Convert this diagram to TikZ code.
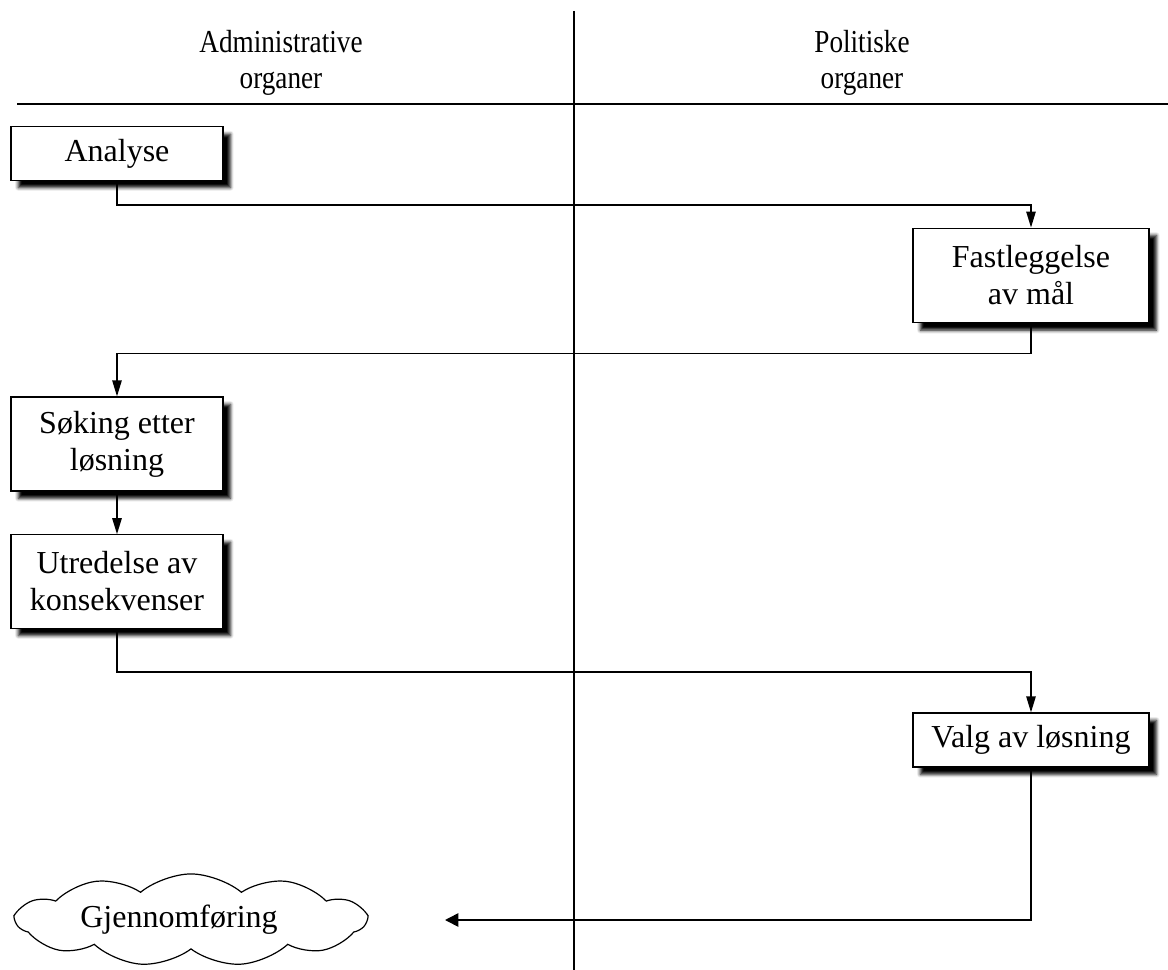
\documentclass[tikz,border=0pt]{standalone}
\usepackage{fontspec}
\setmainfont{Liberation Serif}
\usetikzlibrary{shapes.symbols,arrows.meta,shadows.blur}
\begin{document}
\begin{tikzpicture}[x=0.75pt,y=-0.75pt,
  txt/.style={font=\fontsize{24}{27.75}\selectfont, align=center},
  box/.style={txt, draw=black, line width=0.9pt, fill=white, inner sep=0pt,
     blur shadow={shadow xshift=5.5pt, shadow yshift=-5.5pt, shadow blur radius=2.5pt, shadow opacity=100}},
  lbox/.style={box, minimum width=159pt},
  rbox/.style={box, minimum width=177pt},
  conn/.style={line width=1.2pt, draw=black},
  arr/.style={conn, -{Triangle[length=12pt, width=7pt]}},
  bigarr/.style={conn, -{Triangle[length=10pt, width=10pt]}},
  rule/.style={line width=2pt, draw=black},
  hdr/.style={font=\fontsize{24}{26.5}\selectfont, align=center}
]
\useasboundingbox (0,0) rectangle (1168,970);
% header and swimlane lines
\node[hdr] (hadm) at (281,63) {\scalebox{0.85}[1]{Administrative}\\\scalebox{0.85}[1]{organer}};
\node[hdr] (hpol) at (862,63) {\scalebox{0.85}[1]{Politiske}\\\scalebox{0.85}[1]{organer}};
\coordinate (vtop) at (574,11);
\coordinate (vbot) at (574,970);
\coordinate (hl) at (17,104);
\coordinate (hr) at (1168,104);
\draw[rule] (vtop) -- (vbot);
\draw[rule] (hl) -- (hr);
% boxes
\node[lbox, minimum height=40pt] (ana) at (117,153.5) {Analyse};
\node[rbox, minimum height=71pt] (fast) at (1031,275.5) {Fastleggelse\\av mål};
\node[lbox, minimum height=70.5pt] (sok) at (117,444) {Søking etter\\løsning};
\node[lbox, minimum height=70pt] (utr) at (117,581.5) {Utredelse av\\konsekvenser};
\node[rbox, minimum height=40.5pt] (valg) at (1031,740) {Valg av løsning};
% cloud
\node[cloud, draw=black, line width=0.9pt, cloud puffs=11, cloud puff arc=80, aspect=5,
      minimum width=262pt, minimum height=54pt, inner sep=0pt, txt] (gj) at (191,920)
      {Gjennomføring\hspace{18pt}};
\coordinate (end) at (445,920);
% connectors
\draw[arr] (ana.south) -- ++(0,24) -| (fast.north);
\draw[arr] (fast.south) -- ++(0,30) -| (sok.north);
\draw[arr] (sok.south) -- (utr.north);
\draw[arr] (utr.south) -- ++(0,43) -| (valg.north);
\draw[bigarr] (valg.south) |- (end);
\end{tikzpicture}
\end{document}
